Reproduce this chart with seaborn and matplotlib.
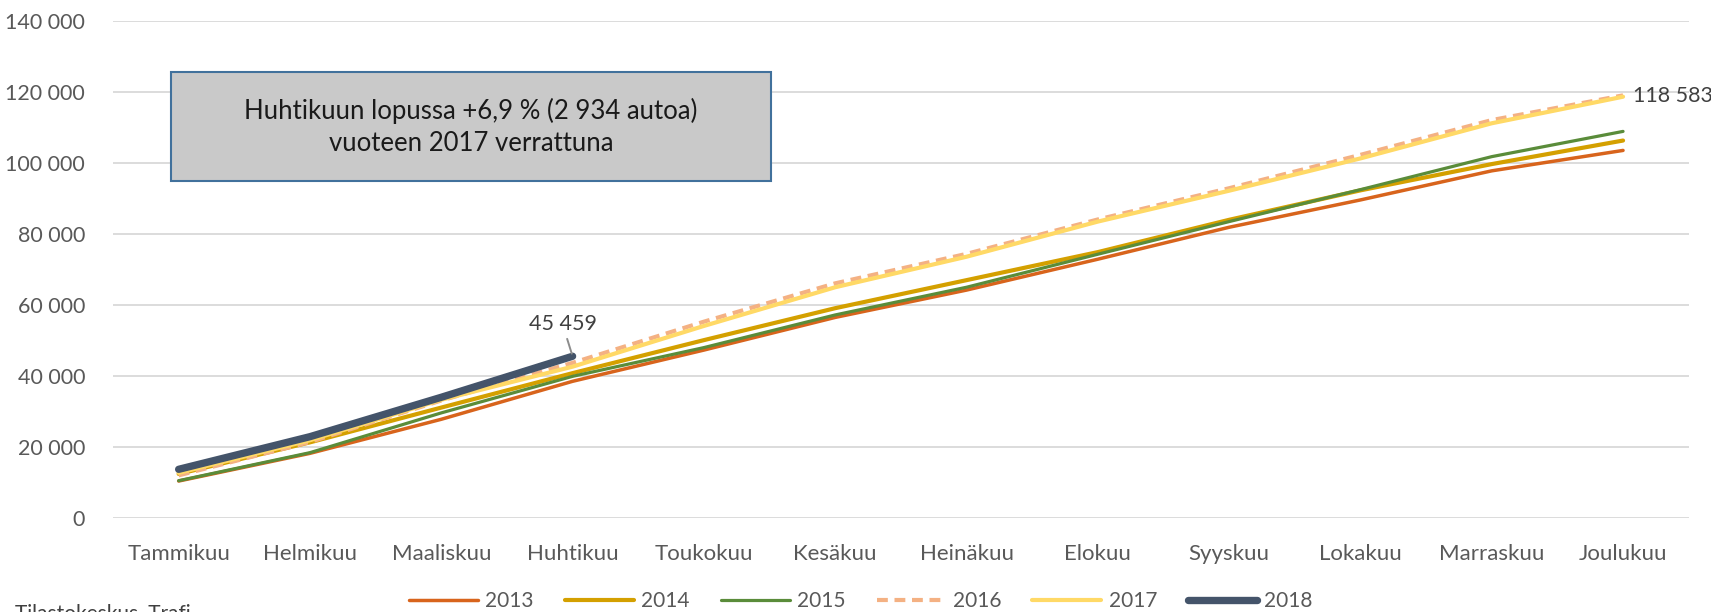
import matplotlib
matplotlib.use("Agg")
import matplotlib.pyplot as plt
import seaborn as sns
import numpy as np
import pandas as pd
from matplotlib.patches import Rectangle
from matplotlib.ticker import FuncFormatter

months = ["Tammikuu", "Helmikuu", "Maaliskuu", "Huhtikuu", "Toukokuu", "Kesäkuu",
          "Heinäkuu", "Elokuu", "Syyskuu", "Lokakuu", "Marraskuu", "Joulukuu"]

v2013 = [10300, 18100, 27700, 38400, 47200, 56400, 64100, 72800, 81800, 89500, 97700, 103450]
v2014 = [12300, 21200, 31000, 40700, 50000, 59000, 66900, 74800, 83900, 92200, 99600, 106236]
v2015 = [10400, 18300, 29500, 39800, 47900, 57100, 64900, 74200, 83400, 92400, 101700, 108812]
v2016 = [11900, 21300, 33000, 43600, 55200, 66000, 74300, 84000, 92800, 102200, 112000, 118967]
v2017 = [12600, 21800, 33200, 42525, 54000, 64900, 73500, 83400, 92100, 101200, 111100, 118583]
v2018 = [13600, 22800, 33900, 45459]

series_names = ["2013", "2014", "2015", "2016", "2017", "2018"]
series_values = [v2013, v2014, v2015, v2016, v2017, v2018]

colors = ["#D8641C", "#D4A000", "#5A8C3A", "#F4B183", "#FFD966", "#44546A"]
widths = [2.5, 3.0, 2.3, 3.0, 3.0, 5.3]

yticks = [0, 20000, 40000, 60000, 80000, 100000, 120000, 140000]

sns.set_theme(style="white")
plt.rcParams["font.family"] = ["Lato", "DejaVu Sans"]

fig = plt.figure(figsize=(17.11, 6.12), dpi=100)
ax = fig.add_axes([113 / 1711, 1 - 517.6 / 612, (1688.7 - 113) / 1711, (517.6 - 20.7) / 612])

for name, vals, c, lw in zip(series_names, series_values, colors, widths):
    df = pd.DataFrame({"x": np.arange(len(vals)), "y": vals})
    sns.lineplot(data=df, x="x", y="y", ax=ax, color=c, linewidth=lw, label=name,
                 solid_capstyle="round")
    if name == "2016":
        ax.lines[-1].set_dashes((2.6, 1.6))

ax.set_xlim(-0.5, 11.5)
ax.set_ylim(0, 140000)
ax.set_xticks(range(len(months)))
ax.set_xticklabels(months)
ax.set_yticks(yticks)
ax.yaxis.set_major_formatter(FuncFormatter(lambda v, p: f"{int(v):,}".replace(",", " ")))
ax.set_xlabel("")
ax.set_ylabel("")
ax.grid(axis="y", color="#D9D9D9", linewidth=1.3)
ax.grid(axis="x", visible=False)
for s in ax.spines.values():
    s.set_visible(False)
ax.tick_params(axis="both", length=0, labelcolor="#595959")
ax.tick_params(axis="x", pad=19, labelsize=16)
ax.tick_params(axis="y", pad=20, labelsize=15.5)

# data labels
ax.annotate(f"{v2018[3]:,}".replace(",", " "), xy=(3, v2018[3]), xytext=(-10, 32),
            textcoords="offset pixels", ha="center", va="center", fontsize=15.5, color="#404040",
            arrowprops=dict(arrowstyle="-", color="#8C8C8C", lw=1.4, shrinkA=1, shrinkB=2))
ax.annotate(f"{v2017[11]:,}".replace(",", " "), xy=(11, v2017[11]), xytext=(10, 1),
            textcoords="offset pixels", ha="left", va="center", fontsize=15.5, color="#404040",
            annotation_clip=False)

# text box
x0, y0, x1, y1 = 171 / 1711, 1 - 181 / 612, 771 / 1711, 1 - 72 / 612
fig.patches.append(Rectangle((x0, y0), x1 - x0, y1 - y0, transform=fig.transFigure,
                             facecolor="#C9C9C9", edgecolor="#41719C", linewidth=1.5, zorder=5))
fig.text((x0 + x1) / 2, (y0 + y1) / 2, "Huhtikuun lopussa +6,9 % (2 934 autoa)\nvuoteen 2017 verrattuna",
         ha="center", va="center", fontsize=18.5, color="#1A1A1A", linespacing=1.35, zorder=6)

# legend
handles, labels = ax.get_legend_handles_labels()
if ax.legend_:
    ax.legend_.remove()
fig.legend(handles, labels, loc="center", bbox_to_anchor=(861 / 1711, 1 - 601 / 612), ncol=6,
           frameon=False, fontsize=15, labelcolor="#595959", handlelength=3.3,
           handletextpad=0.35, columnspacing=1.5)

fig.text(15 / 1711, 1 - 603 / 612, "Tilastokeskus, Trafi", ha="left", va="top",
         fontsize=15, color="#404040")

fig.savefig("out.png", dpi=100)
